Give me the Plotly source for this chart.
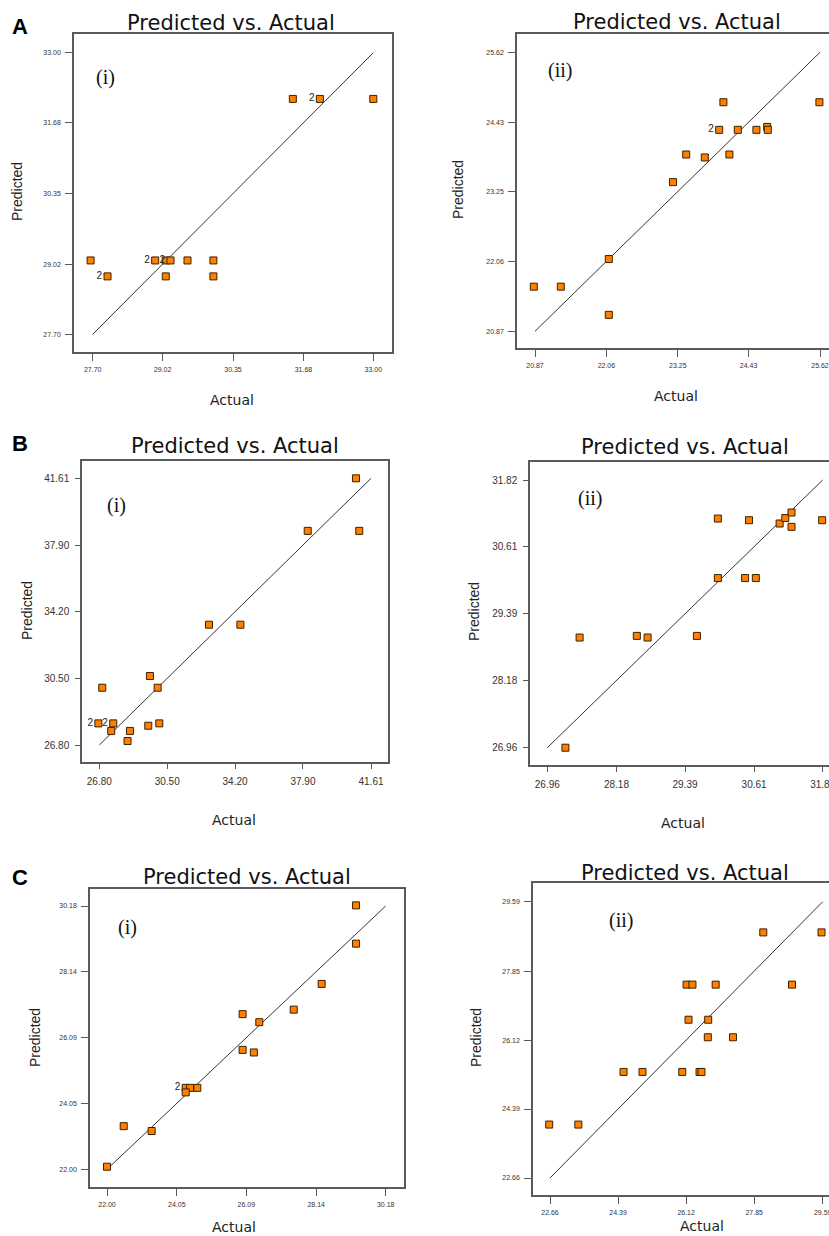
import plotly.graph_objects as go

W, H = 829, 1236

# ---------------- data ----------------
a1_actual = [27.66, 27.98, 28.88, 29.08, 29.17, 29.49, 29.98, 29.08, 29.98, 31.48, 31.99, 33.00]
a1_pred = [29.09, 28.79, 29.09, 29.09, 29.09, 29.09, 29.09, 28.79, 28.79, 32.13, 32.13, 32.13]
a1_count = ["", "2", "2", "", "2", "", "", "", "", "", "2", ""]
a1_ticks = [27.70, 29.02, 30.35, 31.68, 33.00]
a1_ticklabels = ["27.70", "29.02", "30.35", "31.68", "33.00"]

a2_actual = [20.85, 21.30, 22.10, 22.10, 23.17, 23.39, 23.70, 23.94, 24.01, 24.11, 24.25, 24.56, 24.74, 24.75, 25.61]
a2_pred = [21.63, 21.63, 22.10, 21.15, 23.41, 23.88, 23.83, 24.30, 24.77, 23.88, 24.30, 24.30, 24.35, 24.30, 24.77]
a2_count = ["", "", "", "", "", "", "", "2", "", "", "", "", "", "", ""]
a2_ticks = [20.87, 22.06, 23.25, 24.43, 25.62]
a2_ticklabels = ["20.87", "22.06", "23.25", "24.43", "25.62"]

b1_actual = [26.75, 27.56, 26.96, 27.45, 28.47, 28.34, 29.47, 30.07, 29.56, 29.98, 32.78, 34.49, 38.16, 40.97, 40.79]
b1_pred = [28.00, 28.00, 29.98, 27.58, 27.58, 27.02, 27.87, 28.00, 30.63, 29.98, 33.48, 33.48, 38.69, 38.69, 41.61]
b1_count = ["2", "2", "", "", "", "", "", "", "", "", "", "", "", "", ""]
b1_ticks = [26.80, 30.50, 34.20, 37.90, 41.61]
b1_ticklabels = ["26.80", "30.50", "34.20", "37.90", "41.61"]

b2_actual = [27.28, 27.53, 28.54, 28.73, 29.60, 29.97, 29.97, 30.45, 30.52, 30.64, 31.06, 31.16, 31.27, 31.27, 31.81]
b2_pred = [26.96, 28.96, 28.99, 28.96, 28.99, 31.12, 30.04, 30.04, 31.09, 30.04, 31.03, 31.13, 31.23, 30.97, 31.09]
b2_count = [""] * 15
b2_ticks = [26.96, 28.18, 29.39, 30.61, 31.82]
b2_ticklabels = ["26.96", "28.18", "29.39", "30.61", "31.82"]

c1_actual = [22.00, 22.49, 23.31, 24.31, 24.44, 24.31, 24.65, 25.98, 25.98, 26.47, 26.31, 27.48, 28.30, 29.31, 29.31]
c1_pred = [22.08, 23.34, 23.19, 24.53, 24.53, 24.39, 24.53, 26.82, 25.71, 26.57, 25.63, 26.96, 27.76, 30.20, 29.01]
c1_count = ["", "", "", "2", "", "", "", "", "", "", "", "", "", "", ""]
c1_ticks = [22.00, 24.05, 26.09, 28.14, 30.18]
c1_ticklabels = ["22.00", "24.05", "26.09", "28.14", "30.18"]

c2_actual = [22.64, 23.38, 24.53, 25.01, 26.02, 26.46, 26.51, 26.13, 26.28, 26.87, 26.18, 26.68, 26.67, 27.31, 28.08, 28.81, 29.56]
c2_pred = [24.00, 24.00, 25.32, 25.32, 25.32, 25.32, 25.32, 27.51, 27.51, 27.51, 26.63, 26.63, 26.19, 26.19, 28.82, 27.51, 28.82]
c2_count = [""] * 17
c2_ticks = [22.66, 24.39, 26.12, 27.85, 29.59]
c2_ticklabels = ["22.66", "24.39", "26.12", "27.85", "29.59"]

panel_labels = ["A", "B", "C"]
sub_labels = ["(i)", "(ii)"]
title_text = "Predicted vs. Actual"
x_title = "Actual"
y_title = "Predicted"

# ---------------- layout geometry (pixels) ----------------
panels = [
    dict(act=a1_actual, pred=a1_pred, cnt=a1_count, ticks=a1_ticks, tl=a1_ticklabels,
         frame=(74, 34, 392, 352), xt=(92.7, 373.3), yt=(334.3, 52.7), tfs=7, right=False,
         title=(231, 23), sub=(105, 77), subtxt=0, ytit=(17, 192), xtit=(232, 400), ticklen=7, so=3),
    dict(act=a2_actual, pred=a2_pred, cnt=a2_count, ticks=a2_ticks, tl=a2_ticklabels,
         frame=(517, 34, 829, 348), xt=(535, 820), yt=(331.3, 52.3), tfs=7, right=True,
         title=(677, 22), sub=(560, 70), subtxt=1, ytit=(458, 190), xtit=(676, 396), ticklen=7, so=3),
    dict(act=b1_actual, pred=b1_pred, cnt=b1_count, ticks=b1_ticks, tl=b1_ticklabels,
         frame=(82, 461, 388, 762), xt=(99.3, 371), yt=(745, 478.3), tfs=10, right=False,
         title=(235, 446), sub=(116, 506), subtxt=0, ytit=(27, 611), xtit=(234, 820), ticklen=5, so=4),
    dict(act=b2_actual, pred=b2_pred, cnt=b2_count, ticks=b2_ticks, tl=b2_ticklabels,
         frame=(530, 462, 829, 765), xt=(547.3, 822.7), yt=(747.7, 480), tfs=10, right=True,
         title=(685, 447), sub=(590, 498), subtxt=1, ytit=(474, 612), xtit=(683, 823), ticklen=5, so=4),
    dict(act=c1_actual, pred=c1_pred, cnt=c1_count, ticks=c1_ticks, tl=c1_ticklabels,
         frame=(90, 889, 404, 1187), xt=(107, 385.7), yt=(1169.3, 906), tfs=7, right=False,
         title=(247, 877), sub=(128, 927), subtxt=0, ytit=(35, 1038), xtit=(234, 1227), ticklen=7, so=3),
    dict(act=c2_actual, pred=c2_pred, cnt=c2_count, ticks=c2_ticks, tl=c2_ticklabels,
         frame=(533, 883, 829, 1195), xt=(550, 822.7), yt=(1178, 901.7), tfs=7, right=True,
         title=(685, 873), sub=(621, 920), subtxt=1, ytit=(476, 1038), xtit=(702, 1226), ticklen=7, so=3),
]
letter_pos = [(20, 26), (20, 443), (20, 877)]

FRAME = "#5a5a5a"
ORANGE = "#FF8000"

fig = go.Figure()
annotations = []

def px2x(px):
    return px / W

def py2y(py):
    return 1 - py / H

for k, p in enumerate(panels):
    n = "" if k == 0 else str(k + 1)
    xa, ya = "x" + n, "y" + n
    lo, hi = p["ticks"][0], p["ticks"][-1]
    left, top, right, bottom = p["frame"]
    ppx = (p["xt"][1] - p["xt"][0]) / (hi - lo)
    xr = [lo - (p["xt"][0] - left) / ppx, hi + (right - p["xt"][1]) / ppx]
    ppy = (p["yt"][0] - p["yt"][1]) / (hi - lo)
    yr = [lo - (bottom - p["yt"][0]) / ppy, hi + (p["yt"][1] - top) / ppy]

    fig.add_trace(go.Scatter(x=[lo, hi], y=[lo, hi], mode="lines",
                             line=dict(color="#333333", width=1),
                             xaxis=xa, yaxis=ya, hoverinfo="skip"))
    fig.add_trace(go.Scatter(x=p["act"], y=p["pred"], mode="markers+text",
                             text=p["cnt"], textposition="middle left",
                             textfont=dict(family="Arial", size=10, color="#222"),
                             marker=dict(symbol="square", size=7, color=ORANGE,
                                         line=dict(color="#3a2200", width=1)),
                             xaxis=xa, yaxis=ya))

    axcommon = dict(showgrid=False, zeroline=False, showline=True, linecolor=FRAME,
                    linewidth=1.5, ticks="outside", ticklen=p["ticklen"], tickcolor=FRAME,
                    tickwidth=1, tickvals=p["ticks"], ticktext=p["tl"],
                    tickfont=dict(family="Arial", size=p["tfs"], color="#333333"),
                    ticklabelstandoff=p["so"], ticklabeloverflow="allow",
                    automargin=False, fixedrange=True)
    fig.layout["xaxis" + n] = dict(axcommon, domain=[px2x(left), px2x(right)], range=xr,
                                   anchor=ya, mirror=True)
    fig.layout["yaxis" + n] = dict(axcommon, domain=[py2y(bottom), py2y(top)], range=yr,
                                   anchor=xa, mirror=(not p["right"]))

    annotations.append(dict(text=title_text, x=px2x(p["title"][0]), y=py2y(p["title"][1]),
                            xref="paper", yref="paper", showarrow=False, xanchor="center",
                            yanchor="middle", font=dict(family="DejaVu Sans", size=21, color="#111")))
    annotations.append(dict(text=sub_labels[p["subtxt"]], x=px2x(p["sub"][0]), y=py2y(p["sub"][1]),
                            xref="paper", yref="paper", showarrow=False, xanchor="center",
                            yanchor="middle", font=dict(family="Liberation Serif", size=20, color="#111")))
    annotations.append(dict(text=y_title, x=px2x(p["ytit"][0]), y=py2y(p["ytit"][1]),
                            xref="paper", yref="paper", showarrow=False, xanchor="center",
                            yanchor="middle", textangle=-90,
                            font=dict(family="Arial", size=14, color="#222")))
    annotations.append(dict(text=x_title, x=px2x(p["xtit"][0]), y=py2y(p["xtit"][1]),
                            xref="paper", yref="paper", showarrow=False, xanchor="center",
                            yanchor="middle", font=dict(family="DejaVu Sans", size=14, color="#222")))

for lab, (lx, ly) in zip(panel_labels, letter_pos):
    annotations.append(dict(text="<b>" + lab + "</b>", x=px2x(lx), y=py2y(ly), xref="paper",
                            yref="paper", showarrow=False, xanchor="center", yanchor="middle",
                            font=dict(family="Arial", size=22, color="#000")))

fig.update_layout(width=W, height=H, autosize=False, margin=dict(l=0, r=0, t=0, b=0),
                  paper_bgcolor="white", plot_bgcolor="white", showlegend=False,
                  annotations=annotations)

fig.write_html("out.html", config={"displayModeBar": False})
